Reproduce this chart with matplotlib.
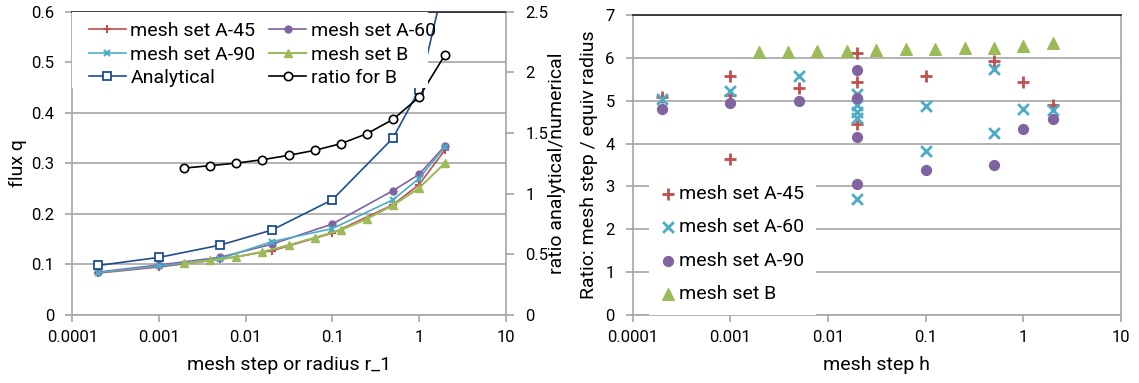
import matplotlib
matplotlib.use("Agg")
import matplotlib.pyplot as plt
from matplotlib.patches import Rectangle
from matplotlib.ticker import FixedLocator, FixedFormatter

plt.rcParams['font.family'] = ['Roboto', 'DejaVu Sans']
plt.rcParams['font.size'] = 14
plt.rcParams['xtick.labelsize'] = 12
plt.rcParams['ytick.labelsize'] = 12

# ---- left panel data: flux vs mesh step ----
h_a = [0.0002, 0.001, 0.005, 0.02, 0.1, 0.5, 1, 2]
q_a45 = [0.083, 0.095, 0.110, 0.127, 0.162, 0.218, 0.258, 0.327]
q_a60 = [0.085, 0.099, 0.114, 0.140, 0.180, 0.246, 0.278, 0.335]
q_a90 = [0.084, 0.097, 0.111, 0.145, 0.171, 0.228, 0.270, 0.333]
q_analytical = [0.098, 0.114, 0.138, 0.168, 0.228, 0.350, 0.445, 0.665]

h_b = [0.00195, 0.0039, 0.0078, 0.0156, 0.03125, 0.0625, 0.125, 0.25, 0.5, 1, 2]
q_b = [0.102, 0.108, 0.115, 0.125, 0.138, 0.153, 0.168, 0.190, 0.217, 0.251, 0.301]
ratio_b = [1.211, 1.231, 1.252, 1.280, 1.316, 1.357, 1.412, 1.494, 1.612, 1.795, 2.146]

# ---- right panel data: mesh step / equiv radius ----
h45 = [0.0002, 0.001, 0.001, 0.001, 0.005, 0.02, 0.02, 0.02, 0.1, 0.5, 1, 2]
r45 = [5.09, 5.58, 5.13, 3.64, 5.29, 6.12, 5.43, 4.46, 5.59, 5.93, 5.44, 4.90]
h60 = [0.0002, 0.001, 0.005, 0.02, 0.02, 0.02, 0.02, 0.02, 0.1, 0.1, 0.5, 0.5, 1, 2]
r60 = [5.04, 5.23, 5.58, 5.17, 4.90, 4.73, 4.59, 2.71, 4.88, 3.83, 5.74, 4.25, 4.81, 4.78]
h90 = [0.0002, 0.001, 0.005, 0.02, 0.02, 0.02, 0.02, 0.1, 0.5, 1, 2]
r90 = [4.82, 4.96, 5.00, 5.72, 5.06, 4.15, 3.05, 3.38, 3.51, 4.34, 4.57]
r_b = [6.15, 6.15, 6.17, 6.17, 6.19, 6.20, 6.21, 6.23, 6.24, 6.28, 6.36]

x_ticks = [0.0001, 0.001, 0.01, 0.1, 1, 10]
x_labels = ["0.0001", "0.001", "0.01", "0.1", "1", "10"]

c_red = "#C0504D"
c_purple = "#8064A2"
c_cyan = "#4BACC6"
c_green = "#9BBB59"
c_blue = "#1F4E8C"
grid_c = "#A6A6A6"


def style_axes(ax):
    ax.set_xscale("log")
    ax.set_xlim(0.0001, 10)
    ax.xaxis.set_major_locator(FixedLocator(x_ticks))
    ax.xaxis.set_major_formatter(FixedFormatter(x_labels))
    ax.xaxis.set_minor_locator(FixedLocator([]))
    ax.grid(axis="y", color=grid_c, linewidth=1.2)
    ax.set_axisbelow(True)
    for s in ax.spines.values():
        s.set_color(grid_c)
        s.set_linewidth(1.2)
    ax.spines["top"].set_color("#222222")
    ax.tick_params(axis="x", color=grid_c, length=5, width=1.2, pad=6)
    ax.tick_params(axis="y", color=grid_c, length=5, width=1.2, pad=8)


fig = plt.figure(figsize=(11.39, 3.83), dpi=100)
ax1 = fig.add_axes([0.0635, 0.1775, 0.3805, 0.792])
ax2 = fig.add_axes([0.5555, 0.1775, 0.4287, 0.783])

# left panel
style_axes(ax1)
ax1.set_ylim(0, 0.6)
ax1.set_yticks([0, 0.1, 0.2, 0.3, 0.4, 0.5, 0.6])
ax1.set_yticklabels(["0", "0.1", "0.2", "0.3", "0.4", "0.5", "0.6"])
ax1.plot(h_a, q_a45, color=c_red, marker="+", ms=6, mew=1.5, lw=1.2, label="mesh set A-45")
ax1.plot(h_a, q_a60, color=c_purple, marker="o", ms=5, lw=1.2, label="mesh set A-60")
ax1.plot(h_a, q_a90, color=c_cyan, marker="x", ms=5, mew=1.5, lw=1.2, label="mesh set A-90")
ax1.plot(h_b, q_b, color=c_green, marker="^", ms=6, lw=1.5, label="mesh set B")
ax1.plot(h_a, q_analytical, color=c_blue, marker="s", ms=6, mfc="white", mew=1.3, lw=1.2, label="Analytical")
ax1.set_xlabel("mesh step or radius r_1", labelpad=8)
ax1.set_ylabel("flux q")
ax1.yaxis.set_label_coords(-0.105, 0.5)

ax1r = ax1.twinx()
ax1r.set_ylim(0, 2.5)
ax1r.set_yticks([0, 0.5, 1, 1.5, 2, 2.5])
ax1r.set_yticklabels(["0", "0.5", "1", "1.5", "2", "2.5"])
ax1r.tick_params(axis="y", color=grid_c, length=6, width=1.2, pad=8)
for s in ax1r.spines.values():
    s.set_visible(False)
ax1r.plot(h_b, ratio_b, color="black", marker="o", ms=6, mfc="white", mew=1.2, lw=1.2, label="ratio for B")
ax1r.set_ylabel("ratio analytical/numerical")
ax1r.yaxis.set_label_coords(1.098, 0.5)

# white legend area, as wide as in the original chart
ax1r.add_patch(Rectangle((0.0, 0.75), 0.82, 0.25, transform=ax1r.transAxes,
                         facecolor="white", edgecolor="none", zorder=4))

h1, l1 = ax1.get_legend_handles_labels()
h2, l2 = ax1r.get_legend_handles_labels()
handles = [h1[0], h1[2], h1[4], h1[1], h1[3], h2[0]]
labels = [l1[0], l1[2], l1[4], l1[1], l1[3], l2[0]]
leg = ax1r.legend(handles, labels, ncol=2, loc="upper left", bbox_to_anchor=(0.025, 0.985),
                  borderaxespad=0, frameon=False,
                  handlelength=1.9, handletextpad=0.23, columnspacing=0.7,
                  labelspacing=0.28, borderpad=0.3)
leg.set_zorder(5)

# right panel
style_axes(ax2)
ax2.set_ylim(0, 7)
ax2.set_yticks(range(8))
ax2.scatter(h45, r45, marker="+", s=70, color=c_red, linewidths=2, label="mesh set A-45", zorder=3)
ax2.scatter(h60, r60, marker="x", s=60, color=c_cyan, linewidths=2, label="mesh set A-60", zorder=3)
ax2.scatter(h90, r90, marker="o", s=50, color=c_purple, label="mesh set A-90", zorder=3)
ax2.scatter(h_b, r_b, marker="^", s=70, color=c_green, label="mesh set B", zorder=3)
ax2.set_xlabel("mesh step h", labelpad=8)
ax2.set_ylabel("Ratio: mesh step / equiv radius")
ax2.yaxis.set_label_coords(-0.071, 0.5)
ax2.legend(loc="lower left", bbox_to_anchor=(0.033, 0.0), borderaxespad=0,
           frameon=True, fancybox=False, edgecolor="none", facecolor="white", framealpha=1,
           handletextpad=0.15, labelspacing=0.8, borderpad=0.6, handlelength=0.8)

fig.savefig("out.png", dpi=100)
